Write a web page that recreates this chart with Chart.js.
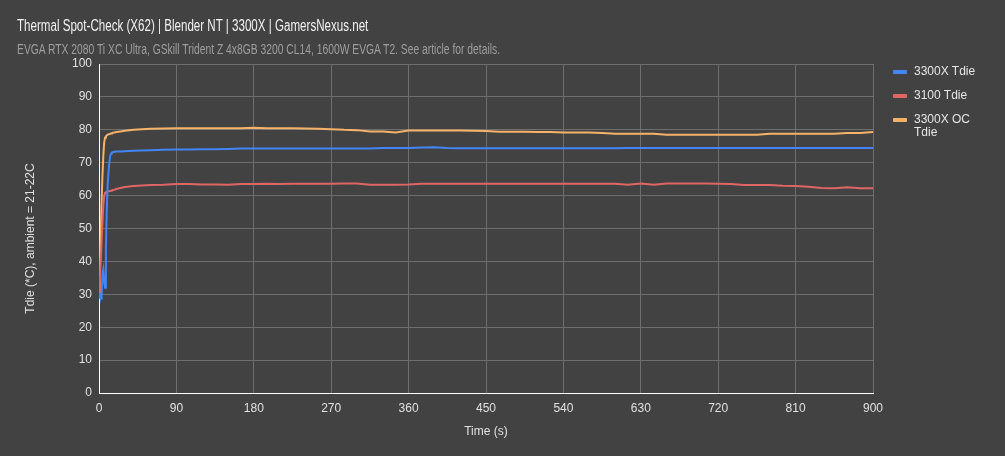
<!DOCTYPE html>
<html>
<head>
<meta charset="utf-8">
<script src="https://cdn.jsdelivr.net/npm/chart.js@4.4.1/dist/chart.umd.min.js"></script>
<style>
  html, body { margin: 0; padding: 0; background: #424242; }
  #wrap { position: relative; width: 1005px; height: 456px; background: #424242; overflow: hidden; }
  #chart { position: absolute; left: 0; top: 0; }
  /* the reference uses a condensed face; squeeze Liberation Sans to match */
  .title { position: absolute; left: 17px; top: 18px; font: 16px/16px "Liberation Sans", Arial, sans-serif; color: #f2f2f2; white-space: nowrap; transform: scaleX(0.724); transform-origin: 0 0; }
  .subtitle { position: absolute; left: 17px; top: 42px; font: 14px/14px "Liberation Sans", Arial, sans-serif; color: #9e9e9e; white-space: nowrap; transform: scaleX(0.737); transform-origin: 0 0; }
  #legend { position: absolute; left: 893px; top: 65px; font: 12px/13px "Liberation Sans", Arial, sans-serif; color: #e6e6e6; }
  .item { display: flex; align-items: flex-start; margin-bottom: 11px; }
  .swatch { width: 14px; height: 4px; border-radius: 1px; margin-top: 5px; margin-right: 7px; flex: none; }
  .label { max-width: 72px; }
</style>
</head>
<body>
<div id="wrap">
  <canvas id="chart" width="1005" height="456"></canvas>
  <div class="title">Thermal Spot-Check (X62) | Blender NT | 3300X | GamersNexus.net</div>
  <div class="subtitle">EVGA RTX 2080 Ti XC Ultra, GSkill Trident Z 4x8GB 3200 CL14, 1600W EVGA T2. See article for details.</div>
  <div id="legend"></div>
</div>
<script>
/* ---------- Data ---------- */
const times = [0, 1, 2, 3, 4, 5, 6, 7, 8, 9, 10, 11, 12, 13, 14, 15, 16, 18, 20, 25, 30, 40, 50, 60, 75,
  90, 105, 120, 135, 150, 165, 180, 195, 210, 225, 240, 255, 270, 285, 300,
  315, 330, 345, 360, 375, 390, 405, 420, 435, 450, 465, 480, 495, 510, 525, 540, 555, 570, 585, 600,
  615, 630, 645, 660, 675, 690, 705, 720, 735, 750, 765, 780, 795, 810, 825, 840, 855, 870, 885, 900];

const tdie3300X = [30.5, 29.5, 29, 28.8, 36, 37.5, 34, 32, 44, 55, 63, 67, 70, 72, 72.8, 73.1, 73.2,
  73.3, 73.4, 73.4, 73.5, 73.6, 73.7, 73.8, 73.9,
  74.0, 74.0, 74.1, 74.1, 74.2, 74.3, 74.3, 74.3, 74.3, 74.3, 74.3, 74.3, 74.3, 74.3, 74.3,
  74.3, 74.5, 74.5, 74.5, 74.6, 74.7, 74.5, 74.4, 74.4, 74.4, 74.4, 74.4, 74.4, 74.4, 74.4, 74.4, 74.4, 74.4, 74.4, 74.4,
  74.5, 74.5, 74.5, 74.5, 74.5, 74.5, 74.5, 74.5, 74.5, 74.5, 74.5, 74.5, 74.5, 74.5, 74.5, 74.5, 74.5, 74.5, 74.5, 74.5];

const tdie3100 = [29, 34, 40, 46, 52, 57, 59.8, 60.8, 61, 61.1, 61.2, 61.3, 61.3, 61.4, 61.5, 61.6, 61.7,
  61.8, 62, 62.3, 62.6, 62.9, 63.1, 63.2, 63.3,
  63.5, 63.5, 63.4, 63.4, 63.3, 63.5, 63.5, 63.6, 63.5, 63.6, 63.6, 63.6, 63.6, 63.7, 63.7,
  63.3, 63.3, 63.3, 63.4, 63.6, 63.6, 63.6, 63.6, 63.6, 63.6, 63.6, 63.6, 63.6, 63.6, 63.6, 63.6, 63.6, 63.6, 63.6, 63.6,
  63.3, 63.7, 63.3, 63.7, 63.7, 63.7, 63.7, 63.6, 63.5, 63.2, 63.2, 63.2, 63.0, 62.9, 62.7, 62.3, 62.2, 62.5, 62.2, 62.2];

const tdie3300XOC = [30, 37, 48, 58, 66, 72, 76, 77.6, 78, 78.3, 78.5, 78.6, 78.7, 78.8, 78.9, 79.0, 79.1,
  79.2, 79.3, 79.5, 79.7, 80.0, 80.2, 80.3, 80.4,
  80.5, 80.5, 80.5, 80.5, 80.5, 80.5, 80.6, 80.5, 80.5, 80.5, 80.4, 80.3, 80.2, 80.0, 79.9,
  79.5, 79.5, 79.2, 79.8, 79.8, 79.8, 79.8, 79.8, 79.7, 79.6, 79.4, 79.4, 79.4, 79.3, 79.3, 79.2, 79.2, 79.2, 79.0, 78.8,
  78.8, 78.8, 78.8, 78.5, 78.5, 78.5, 78.5, 78.5, 78.5, 78.5, 78.5, 78.8, 78.8, 78.8, 78.8, 78.8, 78.8, 79.0, 79.0, 79.3];

const seriesNames = ["3300X Tdie", "3100 Tdie", "3300X OC Tdie"];
const seriesColors = ["#4285f4", "#e06666", "#f6b26b"];
const seriesValues = [tdie3300X, tdie3100, tdie3300XOC];

/* ---------- Legend (HTML so the last label can wrap) ---------- */
const legendEl = document.getElementById("legend");
legendEl.innerHTML = seriesNames
  .map((name, i) => `<div class="item"><span class="swatch" style="background:${seriesColors[i]}"></span><span class="label">${name}</span></div>`)
  .join("");

/* ---------- Chart ---------- */
const gridColor = "#6e6e6e";
const textColor = "#e0e0e0";
const font = { family: "'Liberation Sans', Arial, sans-serif", size: 12 };

new Chart(document.getElementById("chart"), {
  type: "line",
  data: {
    datasets: seriesValues.map((vals, i) => ({
      label: seriesNames[i],
      data: vals.map((v, j) => ({ x: times[j], y: v })),
      borderColor: seriesColors[i],
      backgroundColor: seriesColors[i],
      borderWidth: 2,
      pointRadius: 0,
      tension: 0
    }))
  },
  options: {
    responsive: false,
    animation: false,
    devicePixelRatio: 1,
    layout: { padding: { top: 64, right: 132, bottom: 0, left: 0 } },
    plugins: { legend: { display: false }, title: { display: false }, tooltip: { enabled: false } },
    scales: {
      x: {
        type: "linear",
        min: 0,
        max: 900,
        ticks: { stepSize: 90, color: textColor, font, padding: 8, maxRotation: 0 },
        grid: { color: gridColor, drawTicks: false },
        border: { display: true, color: "#ffffff", width: 1 },
        title: { display: true, text: "Time (s)", color: textColor, font, padding: { top: 0, bottom: 17 } },
        afterFit: (s) => { s.height = 63; }
      },
      y: {
        min: 0,
        max: 100,
        ticks: { stepSize: 10, color: textColor, font, padding: 7 },
        grid: { color: gridColor, drawTicks: false },
        border: { display: true, color: "#ffffff", width: 1 },
        // trailing spaces nudge the rotated title down, like the reference (centred on plot + tick labels)
        title: { display: true, text: "Tdie (*C), ambient = 21-22C      ", color: textColor, font, padding: { top: 23, bottom: 0 } },
        afterFit: (s) => { s.width = 99; }
      }
    }
  }
});
</script>
</body>
</html>
